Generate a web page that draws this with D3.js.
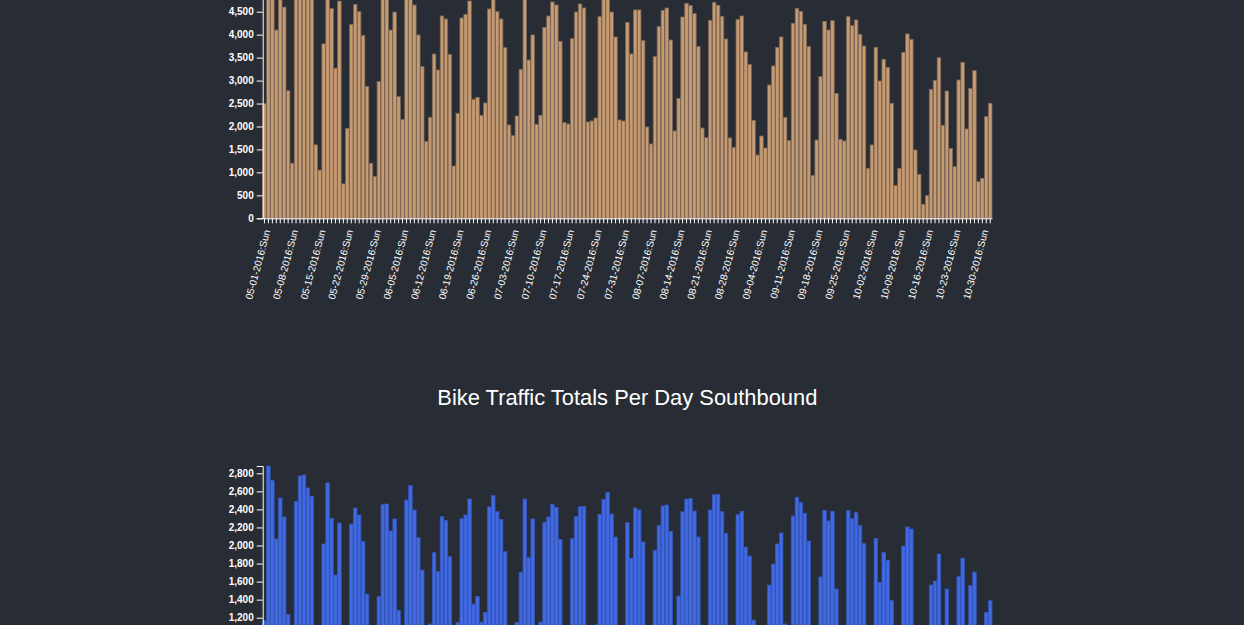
<!DOCTYPE html>
<html><head><meta charset="utf-8">
<script src="https://cdn.jsdelivr.net/npm/d3@7"></script>
<style>
html,body{margin:0;padding:0;background:#282c34;overflow:hidden;}
svg{display:block;}
.axis text{fill:#fff;font-family:"Liberation Sans",Arial,Helvetica,sans-serif;font-size:10px;}
.yaxis text{font-weight:bold;}
.axis path,.axis line{stroke:#fff;}
.title{fill:#fff;font-family:"Liberation Sans",Arial,Helvetica,sans-serif;font-size:21.9px;}
</style></head><body>
<svg id="chart" width="1244" height="625"></svg>
<script>
const startDate = "2016-05-01";
const endDate = "2016-11-01";
const titleSouth = "Bike Traffic Totals Per Day Southbound";

const totalValues = [
2500,5663,5300,4100,4930,4600,2780,1200,4860,5400,5420,5140,4960,1600,1050,3800,5250,4570,3270,4730,
750,1960,4220,4660,4500,3980,2870,1200,910,2980,4780,4800,4100,4490,2650,2150,4880,5190,4646,3993,
3303,1670,2200,3579,3230,4407,4341,3572,1140,2287,4363,4443,4733,2592,2635,2243,2512,4559,4980,4501,
4341,3717,2033,1800,2229,3245,4900,3448,3993,2047,2243,4160,4407,4712,4646,3855,2084,2055,3913,4494,
4668,4581,2098,2120,2185,4392,4900,5050,4494,3949,2142,2120,4269,3579,4538,4538,3870,1989,1619,3521,
4175,4530,4581,3884,1902,2614,4385,4683,4632,4458,3739,1967,1757,4312,4705,4639,4400,3906,1750,1546,
4334,4407,3623,3354,2134,1379,1793,1532,2904,3318,3724,3949,2200,1692,4247,4574,4508,4225,3739,929,
1706,3085,4291,4102,4305,2722,1721,1684,4392,4196,4320,4008,3753,1089,1597,3724,2991,3463,3289,2505,
711,1089,3615,4015,3899,1488,958,305,494,2810,3006,3499,2026,2773,1525,1125,3013,3398,1946,2831,
3216,799,871,2214,2505];

const southValues = [
1167,2881,2719,2072,2527,2316,1237,600,2490,2770,2781,2637,2545,800,540,2017,2693,2301,1673,2249,
390,1000,2238,2416,2338,2046,1462,620,470,1433,2453,2460,2161,2294,1281,1100,2504,2663,2394,2087,
1728,860,1130,1920,1710,2320,2279,1876,590,1145,2297,2338,2515,1351,1436,1150,1259,2427,2552,2375,
2290,1932,1040,920,1148,1703,2515,1865,2294,1050,1150,2257,2316,2456,2423,2068,1070,1050,2076,2320,
2430,2434,1080,1090,1120,2345,2512,2589,2349,2094,1100,1090,2253,1858,2416,2394,2039,1020,830,1946,
2220,2438,2449,2157,980,1440,2375,2515,2519,2382,2094,1010,900,2394,2563,2567,2375,2135,900,790,
2342,2379,1983,1884,1174,710,920,790,1562,1795,2017,2139,1130,870,2327,2534,2475,2357,2050,480,
870,1651,2390,2272,2379,1518,880,860,2386,2297,2364,2220,2020,560,820,2079,1592,1924,1836,1392,
360,560,1994,2205,2183,760,490,160,250,1562,1606,1906,1040,1518,780,580,1654,1858,1000,1555,
1706,410,450,1259,1388];

const tickLabels = ["05-01-2016:Sun","05-08-2016:Sun","05-15-2016:Sun","05-22-2016:Sun","05-29-2016:Sun",
"06-05-2016:Sun","06-12-2016:Sun","06-19-2016:Sun","06-26-2016:Sun","07-03-2016:Sun","07-10-2016:Sun",
"07-17-2016:Sun","07-24-2016:Sun","07-31-2016:Sun","08-07-2016:Sun","08-14-2016:Sun","08-21-2016:Sun",
"08-28-2016:Sun","09-04-2016:Sun","09-11-2016:Sun","09-18-2016:Sun","09-25-2016:Sun","10-02-2016:Sun",
"10-09-2016:Sun","10-16-2016:Sun","10-23-2016:Sun","10-30-2016:Sun"];

const parse = d3.timeParse("%Y-%m-%d");
const fmt = d3.timeFormat("%m-%d-%Y:%a");
const days = d3.timeDay.range(parse(startDate), d3.timeDay.offset(parse(endDate), 1));
const categories = days.map(fmt);

const svg = d3.select("#chart");
const left = 262.7, right = 992, innerH = 260;

const x = d3.scaleBand().domain(categories).range([left, right]).paddingInner(0.1).paddingOuter(0);

function drawChart(values, topY, fill, stroke, title) {
  const y = d3.scaleLinear().domain([0, d3.max(values)]).range([topY + innerH, topY]);
  const g = svg.append("g");
  if (title) {
    g.append("text").attr("class", "title")
      .attr("x", (left + right) / 2).attr("y", topY - 61)
      .attr("text-anchor", "middle").text(title);
  }
  g.selectAll("rect").data(values).join("rect")
    .attr("x", (d, i) => x(categories[i]))
    .attr("width", x.bandwidth())
    .attr("y", d => y(d))
    .attr("height", d => y(0) - y(d))
    .attr("fill", fill)
    .attr("stroke", stroke)
    .attr("stroke-width", 0.8);
  g.append("g").attr("class", "axis yaxis")
    .attr("transform", `translate(${left},0)`)
    .call(d3.axisLeft(y));
  const xa = g.append("g").attr("class", "axis")
    .attr("transform", `translate(0,${topY + innerH})`)
    .call(d3.axisBottom(x).tickSizeInner(5).tickSizeOuter(0)
      .tickFormat(d => tickLabels.includes(d) ? d : ""));
  xa.selectAll(".tick text")
    .attr("y", 0).attr("dy", 0)
    .attr("text-anchor", "end")
    .attr("transform", "translate(6,12.5) rotate(-75)");
}

drawChart(totalValues, -41.7, "#c79b72", "#7b6656", null);
drawChart(southValues, 466, "#4169e1", "#3356b8", titleSouth);
</script>
</body></html>
